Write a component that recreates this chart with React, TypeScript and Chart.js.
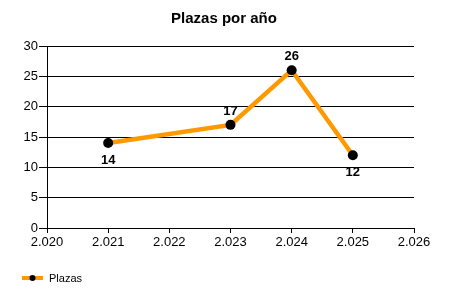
import React, { useEffect, useRef } from "react";
import { Chart, registerables } from "chart.js";

Chart.register(...registerables);

const years = [2021, 2023, 2024, 2025];
const plazas = [14, 17, 26, 12];
const labelPlacement = ["below", "above", "above", "below"];
const xTickMin = 2020;
const xTickMax = 2026;
const yTickMin = 0;
const yTickMax = 30;
const chartTitle = "Plazas por año";
const seriesName = "Plazas";

const ORANGE = "#FF9900";
const FONT = "'Liberation Sans', Arial, sans-serif";

function fmtThousands(v: number): string {
  const s = String(Math.round(v));
  if (s.length <= 3) return s;
  return s.slice(0, s.length - 3) + "." + s.slice(s.length - 3);
}

const overlayPlugin = {
  id: "overlay",
  afterDatasetsDraw(chart: any) {
    const ctx = chart.ctx;
    const meta = chart.getDatasetMeta(0);
    ctx.save();
    ctx.font = `bold 13px ${FONT}`;
    ctx.fillStyle = "#000";
    ctx.textAlign = "center";
    ctx.textBaseline = "alphabetic";
    meta.data.forEach((pt: any, i: number) => {
      const dy = labelPlacement[i] === "above" ? -10 : 20.5;
      ctx.fillText(String(plazas[i]), pt.x, pt.y + dy);
    });
    ctx.restore();
  },
  afterDraw(chart: any) {
    const ctx = chart.ctx;
    ctx.save();
    // title
    ctx.font = `bold 15px ${FONT}`;
    ctx.fillStyle = "#000";
    ctx.textAlign = "center";
    ctx.textBaseline = "alphabetic";
    ctx.fillText(chartTitle, 224, 23);
    // legend
    const ly = 278;
    ctx.strokeStyle = ORANGE;
    ctx.lineWidth = 4;
    ctx.beginPath();
    ctx.moveTo(22, ly);
    ctx.lineTo(43, ly);
    ctx.stroke();
    ctx.fillStyle = "#000";
    ctx.beginPath();
    ctx.arc(32.5, ly, 3, 0, Math.PI * 2);
    ctx.fill();
    ctx.font = `11px ${FONT}`;
    ctx.textAlign = "left";
    ctx.fillText(seriesName, 49, 282);
    ctx.restore();
  },
};

export default function App() {
  const ref = useRef<HTMLCanvasElement>(null);
  useEffect(() => {
    document.body.style.margin = "0";
    const canvas = ref.current!;
    const chart = new Chart(canvas, {
      type: "line",
      data: {
        datasets: [
          {
            label: seriesName,
            data: years.map((y, i) => ({ x: y, y: plazas[i] })),
            borderColor: ORANGE,
            borderWidth: 4.5,
            pointBackgroundColor: "#000",
            pointBorderColor: "#000",
            pointRadius: 5,
            pointBorderWidth: 0,
            tension: 0,
          },
        ],
      },
      options: {
        responsive: false,
        animation: false,
        layout: { padding: { left: 0, right: 36, top: 46, bottom: 42 } },
        plugins: {
          legend: { display: false },
          title: { display: false },
          tooltip: { enabled: false },
        },
        scales: {
          x: {
            type: "linear",
            min: xTickMin,
            max: xTickMax,
            afterFit: (s: any) => {
              s.height = 30;
            },
            ticks: {
              stepSize: 1,
              color: "#000",
              font: { family: FONT, size: 13 },
              padding: 2,
              maxRotation: 0,
              callback: (v: any) => fmtThousands(Number(v)),
            },
            grid: {
              drawOnChartArea: false,
              drawTicks: true,
              tickLength: 5,
              color: "#000",
            },
            border: { color: "#000", width: 1 },
          },
          y: {
            min: yTickMin,
            max: yTickMax,
            afterFit: (s: any) => {
              s.width = 47;
            },
            ticks: {
              stepSize: 5,
              color: "#000",
              font: { family: FONT, size: 13 },
              padding: 1,
            },
            grid: {
              color: "#000",
              lineWidth: 1,
              tickLength: 8,
            },
            border: { color: "#000", width: 1 },
          },
        },
      },
      plugins: [overlayPlugin],
    });
    return () => chart.destroy();
  }, []);
  return (
    <div style={{ width: 450, height: 300, background: "#fff" }}>
      <canvas ref={ref} width={450} height={300} style={{ display: "block" }} />
    </div>
  );
}
